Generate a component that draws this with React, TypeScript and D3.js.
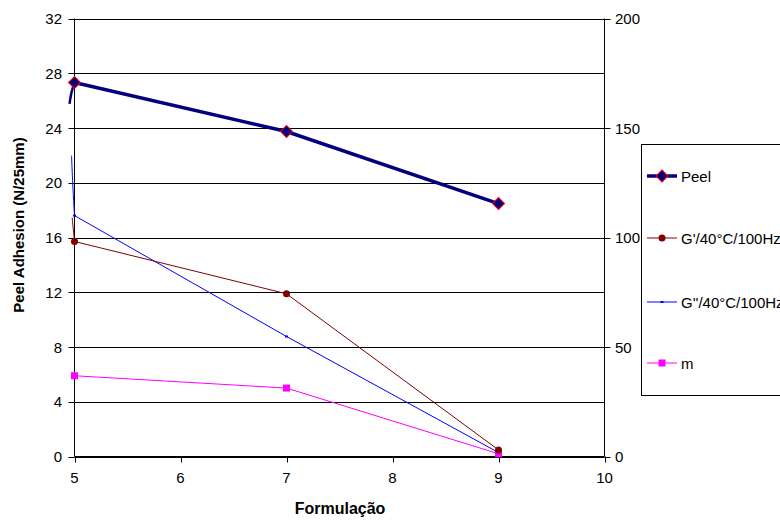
import React from "react";
import * as d3 from "d3";

const formulations = [5, 7, 9];
const peel = [27.32, 23.74, 18.48];
const gPrime = [98.2, 74.3, 3.0];
const gDouble = [110, 54.8, 1.8];
const mValues = [5.9, 5.0, 0.2];

// smoothing overshoot drawn to the left of the first point (data units)
const peelLead = [[4.953, 25.76], [4.972, 26.6]];
const gDoubleLead = [[4.972, 137.4], [4.985, 123]];
const gPrimeLead = [[4.978, 109.1], [4.99, 103]];

const leftTicks = [0, 4, 8, 12, 16, 20, 24, 28, 32];
const rightTicks = [0, 50, 100, 150, 200];
const xTicks = [5, 6, 7, 8, 9, 10];
const legendLabels = ["Peel", "G'/40°C/100Hz", "G''/40°C/100Hz", "m"];

const W = 780, H = 522;
const M = { left: 74.5, right: 604.5, top: 18.5, bottom: 456.5 };
const FONT = "Liberation Sans, Arial, sans-serif";

export default function App() {
  const x = d3.scaleLinear().domain([5, 10]).range([M.left, M.right]);
  const yL = d3.scaleLinear().domain([0, 32]).range([M.bottom, M.top]);
  const yR = d3.scaleLinear().domain([0, 200]).range([M.bottom, M.top]);

  const line = (ys: number[], sy: d3.ScaleLinear<number, number>) =>
    d3.line<number>().x((_, i) => x(formulations[i])).y((d) => sy(d))(ys) || "";
  const lead = (pts: number[][], first: number, sy: d3.ScaleLinear<number, number>) =>
    d3
      .line<number[]>()
      .x((d) => x(d[0]))
      .y((d) => sy(d[1]))
      .curve(d3.curveCatmullRom)([...pts, [5, first]]) || "";

  const diamond = d3.symbol().type(d3.symbolSquare).size(72)() || "";

  const series = [
    { color: "#000080", width: 3.5 },
    { color: "#800000", width: 1 },
    { color: "#0000FF", width: 1 },
    { color: "#FF00FF", width: 1 },
  ];

  const drawMarker = (k: number, cx: number, cy: number, key: string) => {
    if (k === 0)
      return (
        <path key={key} d={diamond} transform={`translate(${cx},${cy}) rotate(45)`} fill="#000080" stroke="#FF0000" strokeWidth={1} />
      );
    if (k === 1) return <circle key={key} cx={cx} cy={cy} r={3.5} fill="#800000" />;
    if (k === 2) return <rect key={key} x={cx - 1.5} y={cy - 1} width={3} height={2} fill="#0000FF" />;
    return <rect key={key} x={cx - 3.5} y={cy - 3.5} width={7} height={7} fill="#FF00FF" />;
  };

  const legendY = [176, 238, 302, 363];

  return (
    <svg width={W} height={H} style={{ position: "absolute", left: 0, top: 0, background: "#fff" }} fontFamily={FONT}>
      {/* gridlines */}
      {leftTicks.map((t) => (
        <line key={"g" + t} x1={M.left} x2={M.right} y1={Math.round(yL(t)) + 0.5} y2={Math.round(yL(t)) + 0.5} stroke="#000" strokeWidth={1} />
      ))}
      {/* right border */}
      <line x1={M.right} x2={M.right} y1={M.top} y2={M.bottom} stroke="#000" />
      {/* left axis */}
      <line x1={M.left} x2={M.left} y1={M.top} y2={M.bottom} stroke="#000" />
      {leftTicks.map((t) => (
        <g key={"l" + t}>
          <line x1={M.left - 6} x2={M.left} y1={Math.round(yL(t)) + 0.5} y2={Math.round(yL(t)) + 0.5} stroke="#000" />
          <text x={62} y={yL(t) + 5.5} textAnchor="end" fontSize={15} fill="#000">{t}</text>
        </g>
      ))}
      {/* right axis */}
      {rightTicks.map((t) => (
        <g key={"r" + t}>
          <line x1={M.right} x2={M.right + 6} y1={Math.round(yR(t)) + 0.5} y2={Math.round(yR(t)) + 0.5} stroke="#000" />
          <text x={615} y={yR(t) + 5.5} textAnchor="start" fontSize={15} fill="#000">{t}</text>
        </g>
      ))}
      {/* bottom axis */}
      <line x1={M.left} x2={M.right} y1={M.bottom} y2={M.bottom} stroke="#000" />
      {xTicks.map((t) => (
        <g key={"x" + t}>
          <line x1={Math.round(x(t)) + 0.5} x2={Math.round(x(t)) + 0.5} y1={M.bottom} y2={M.bottom + 6} stroke="#000" />
          <text x={x(t)} y={483} textAnchor="middle" fontSize={15} fill="#000">{t}</text>
        </g>
      ))}
      <text x={340} y={514} textAnchor="middle" fontSize={16} fontWeight="bold">Formulação</text>
      <text transform={`translate(24,225) rotate(-90)`} textAnchor="middle" fontSize={15} fontWeight="bold">
        Peel Adhesion (N/25mm)
      </text>

      {/* series lines */}
      <path d={lead(peelLead, peel[0], yL)} fill="none" stroke="#000080" strokeWidth={2.5} />
      <path d={lead(gDoubleLead, gDouble[0], yR)} fill="none" stroke="#0000FF" strokeWidth={1} />
      <path d={lead(gPrimeLead, gPrime[0], yR)} fill="none" stroke="#800000" strokeWidth={1} />
      <path d={line(mValues, yL)} fill="none" stroke="#FF00FF" strokeWidth={1} />
      <path d={line(gDouble, yR)} fill="none" stroke="#0000FF" strokeWidth={1} />
      <path d={line(gPrime, yR)} fill="none" stroke="#800000" strokeWidth={1} />
      <path d={line(peel, yL)} fill="none" stroke="#000080" strokeWidth={3.5} />

      {mValues.map((v, i) => drawMarker(3, x(formulations[i]), yL(v), "m" + i))}
      {gDouble.map((v, i) => drawMarker(2, x(formulations[i]), yR(v), "gd" + i))}
      {gPrime.map((v, i) => drawMarker(1, x(formulations[i]), yR(v), "gp" + i))}
      {peel.map((v, i) => drawMarker(0, x(formulations[i]), yL(v), "p" + i))}

      {/* legend */}
      <rect x={641.5} y={144.5} width={150} height={251} fill="#fff" stroke="#000" strokeWidth={1} />
      {legendLabels.map((lab, k) => (
        <g key={"lg" + k}>
          <line x1={647} x2={677} y1={legendY[k]} y2={legendY[k]} stroke={series[k].color} strokeWidth={series[k].width} />
          {drawMarker(k, 662, legendY[k], "lm" + k)}
          <text x={681} y={legendY[k] + 5.5} fontSize={15} fill="#000">{lab}</text>
        </g>
      ))}
    </svg>
  );
}
